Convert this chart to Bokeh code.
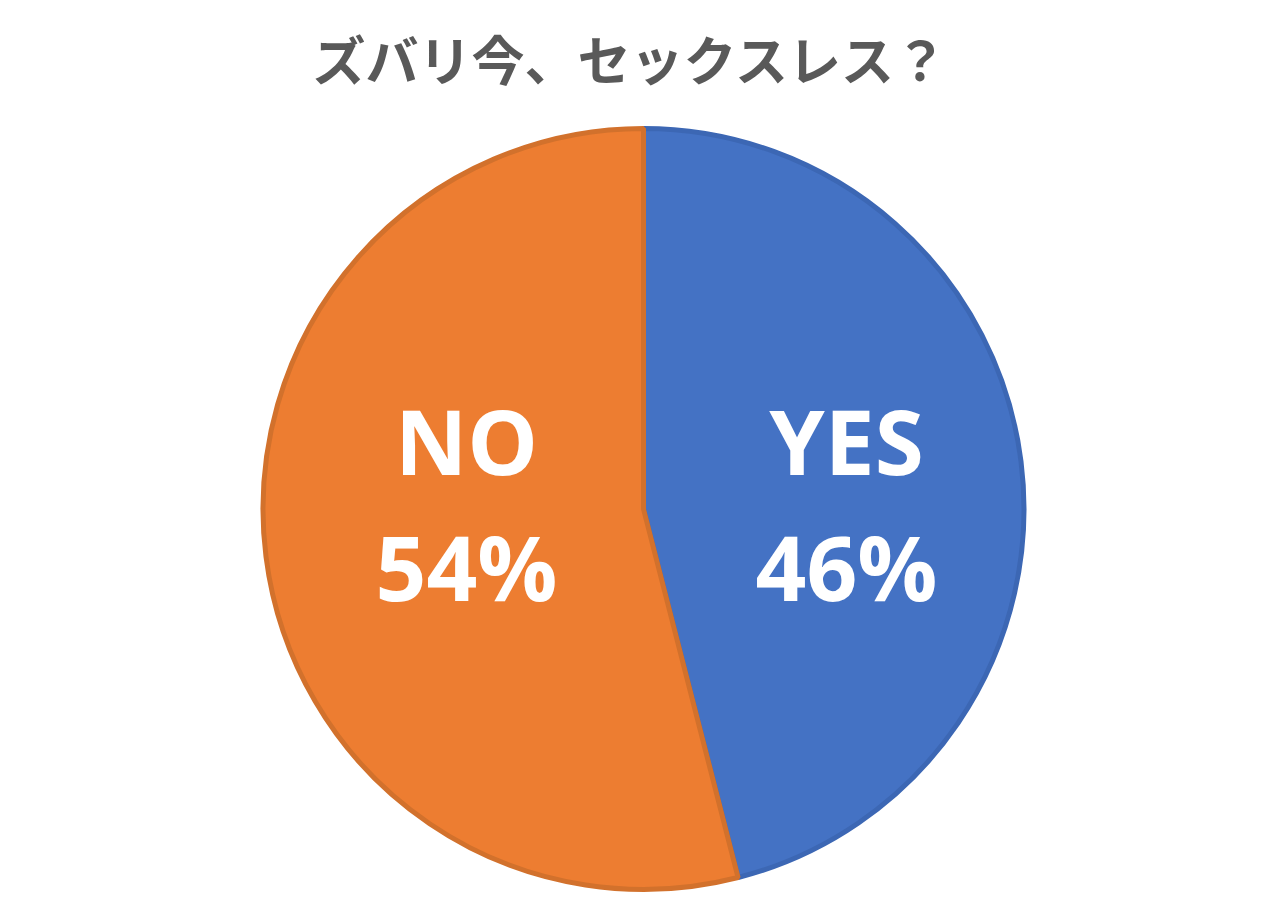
import numpy as np
import pandas as pd

from bokeh.core.properties import value
from bokeh.models import ColumnDataSource, Range1d
from bokeh.plotting import figure
from bokeh.embed import file_html
from bokeh.resources import INLINE

# Data
title = "ズバリ今、セックスレス？"
labels = ["YES", "NO"]
shares = [46, 54]
fills = ["#4472C4", "#ED7D31"]
edges = ["#3C67B4", "#D2712C"]

W, H = 1264, 902

df = pd.DataFrame({"label": labels, "share": shares, "fill": fills, "edge": edges})
# start at 12 o'clock, go clockwise
frac = df.share / df.share.sum() * 2 * np.pi
df["end"] = np.pi / 2 - frac.cumsum().shift(fill_value=0)
df["start"] = df["end"] - frac
df["pct"] = df.share.astype(str) + "%"

cx, cy, r = 643, H - 508.5, 383

mid = (df.start + df.end) / 2
df["tx"] = cx + 0.5 * r * np.cos(mid) + 13
df["ty1"] = cy + 69
df["ty2"] = cy - 57

source = ColumnDataSource(df)

p = figure(width=W, height=H, output_backend="svg", toolbar_location=None,
           x_range=Range1d(0, W), y_range=Range1d(0, H),
           min_border=0, outline_line_color=None)
p.axis.visible = False
p.grid.visible = False

p.wedge(x=cx, y=cy, radius=r - 2.5, start_angle="start", end_angle="end",
        fill_color="fill", line_color="edge", line_width=5, source=source)

for col, txt in [("ty1", "label"), ("ty2", "pct")]:
    p.text(x="tx", y=col, text=txt, source=source, text_color="white",
           text_font=value("Open Sans"), text_font_style="bold", text_font_size="89px",
           text_align="center", text_baseline="middle")

p.text(x=[630], y=[H - 57], text=[title], text_color="#595959",
       text_font=value("Noto Sans CJK JP"), text_font_style="bold",
       text_font_size="53px", text_align="center", text_baseline="middle")

open("out.html", "w").write(file_html(p, INLINE))
